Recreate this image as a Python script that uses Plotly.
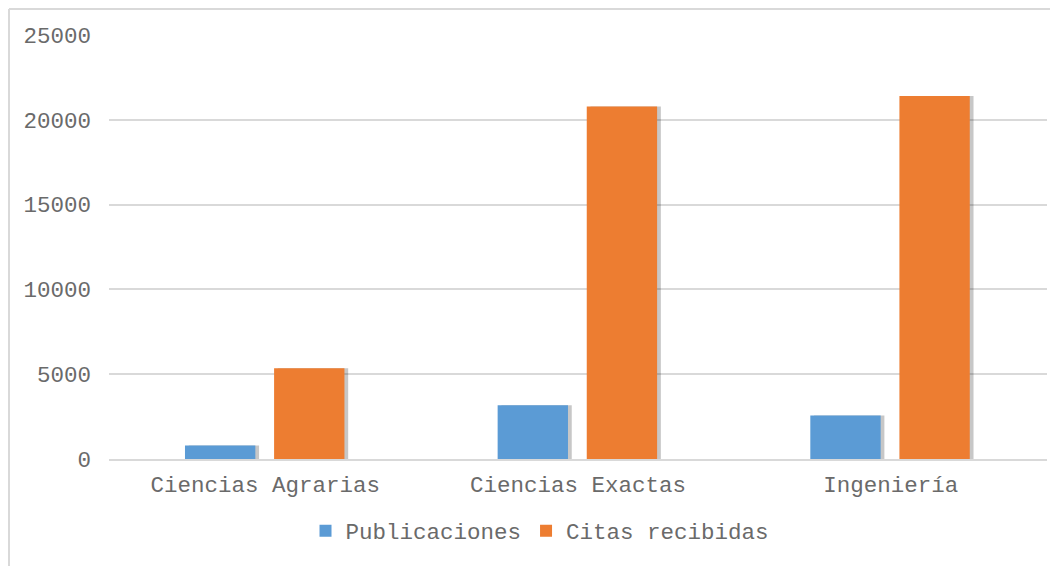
import plotly.graph_objects as go

categories = ["Ciencias Agrarias", "Ciencias Exactas", "Ingeniería"]
publicaciones = [800, 3170, 2560]
citas = [5350, 20780, 21400]
y_ticks = [0, 5000, 10000, 15000, 20000, 25000]
y_tick_labels = ["0", "5000", "10000", "15000", "20000", "25000"]

BLUE = "#5B9BD5"
ORANGE = "#ED7D31"
TEXT = "#6A6A6A"
GRID = "#D9D9D9"
FONT = "Liberation Mono"
FS = 22.5

W = 0.225
OFF_PUB = -0.257
OFF_CIT = 0.028
SH = 0.012

fig = go.Figure()
# soft shadows
for vals, off in [(publicaciones, OFF_PUB), (citas, OFF_CIT)]:
    fig.add_trace(go.Bar(x=categories, y=vals, width=W, offset=off + SH,
                         marker=dict(color="rgba(0,0,0,0.22)", line=dict(width=0)),
                         showlegend=False, hoverinfo="skip"))
fig.add_trace(go.Bar(x=categories, y=publicaciones, name="Publicaciones",
                     width=W, offset=OFF_PUB,
                     marker=dict(color=BLUE, line=dict(width=0))))
fig.add_trace(go.Bar(x=categories, y=citas, name="Citas recibidas",
                     width=W, offset=OFF_CIT,
                     marker=dict(color=ORANGE, line=dict(width=0))))

fig.update_layout(
    width=1050, height=558,
    margin=dict(l=101, r=11, t=27, b=107, autoexpand=False),
    paper_bgcolor="white", plot_bgcolor="white",
    barmode="overlay",
    font=dict(family=FONT, size=FS, color=TEXT),
    showlegend=True,
    legend=dict(orientation="h", x=0.4595, xanchor="center", y=-0.17, yanchor="middle",
                font=dict(family=FONT, size=FS, color=TEXT), itemwidth=30,
                traceorder="normal"),
    xaxis=dict(range=[-0.5, 2.5], showgrid=False, showline=True, linecolor=GRID,
               linewidth=2, ticks="", automargin=False, ticklabelstandoff=4,
               tickfont=dict(family=FONT, size=FS, color=TEXT)),
    yaxis=dict(range=[0, 25000], tickvals=y_ticks, ticktext=y_tick_labels,
               showgrid=True, gridcolor=GRID,
               gridwidth=1.5, zeroline=False, showline=False, ticks="",
               ticklabelstandoff=17, automargin=False,
               tickfont=dict(family=FONT, size=FS, color=TEXT)),
    shapes=[
        dict(type="line", xref="paper", yref="paper", x0=-0.1066, x1=-0.1066,
             y0=-0.5, y1=1.0613, line=dict(color=GRID, width=2)),
        dict(type="line", xref="paper", yref="paper", x0=-0.1066, x1=1.2,
             y0=1.0613, y1=1.0613, line=dict(color=GRID, width=2)),
    ],
)

fig.write_html("out.html")
